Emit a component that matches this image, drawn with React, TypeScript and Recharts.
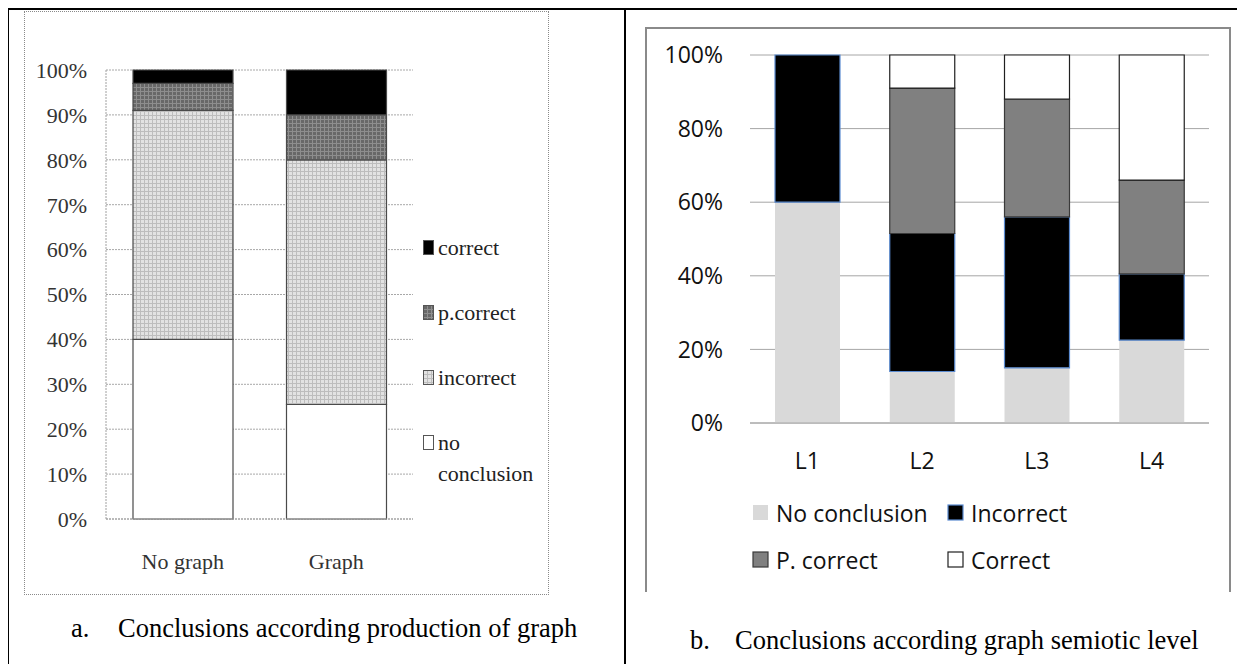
import React from "react";
import { BarChart, Bar, XAxis, YAxis, CartesianGrid, Legend } from "recharts";

// a. conclusions according production of graph
const graphGroups = ["No graph", "Graph"];
const aNoConclusion = [40, 25.5];
const aIncorrect = [51, 54.5];
const aPCorrect = [6, 10];
const aCorrect = [3, 10];
const aTicks = [0, 10, 20, 30, 40, 50, 60, 70, 80, 90, 100];

// b. conclusions according graph semiotic level
const levels = ["L1", "L2", "L3", "L4"];
const bNoConclusion = [60, 14, 15, 22.5];
const bIncorrect = [40, 37.5, 41, 18];
const bPCorrect = [0, 39.5, 32, 25.5];
const bCorrect = [0, 9, 12, 34];
const bTicks = [0, 20, 40, 60, 80, 100];

const dataA = graphGroups.map((g, i) => ({
  group: g,
  noConclusion: aNoConclusion[i],
  incorrect: aIncorrect[i],
  pCorrect: aPCorrect[i],
  correct: aCorrect[i],
}));

const dataB = levels.map((l, i) => ({
  level: l,
  noConclusion: bNoConclusion[i],
  incorrect: bIncorrect[i],
  pCorrect: bPCorrect[i],
  correct: bCorrect[i],
}));

const seriesA = [
  { key: "noConclusion", name: "no conclusion", fill: "#ffffff" },
  { key: "incorrect", name: "incorrect", fill: "url(#patIncorrect)" },
  { key: "pCorrect", name: "p.correct", fill: "url(#patPCorrect)" },
  { key: "correct", name: "correct", fill: "#000000" },
];

const seriesB = [
  { key: "noConclusion", name: "No conclusion", fill: "#d9d9d9", stroke: "none" },
  { key: "incorrect", name: "Incorrect", fill: "#000000", stroke: "#5b8bd0" },
  { key: "pCorrect", name: "P. correct", fill: "#808080", stroke: "#3a3a3a" },
  { key: "correct", name: "Correct", fill: "#ffffff", stroke: "#202020" },
];

const serif = "'Liberation Serif', 'Times New Roman', serif";
const sans = "'Open Sans', 'Noto Sans', sans-serif";

// legend a lists the stack top-down, like the original
function LegendA() {
  const items = [...seriesA].reverse();
  return (
    <div style={{ fontFamily: serif, fontSize: 22, color: "#222" }}>
      {items.map((s) => {
        const words = s.name === "no conclusion" ? ["no", "conclusion"] : [s.name];
        return (
          <div key={s.key} style={{ display: "flex", height: 65, alignItems: "flex-start" }}>
            <svg width={15} height={30} style={{ flex: "none" }}>
              <rect x={0.5} y={8.5} width={10} height={14} fill={s.fill} stroke="#555" />
            </svg>
            <div style={{ lineHeight: "31px" }}>
              {words.map((w) => (
                <div key={w}>{w}</div>
              ))}
            </div>
          </div>
        );
      })}
    </div>
  );
}

function LegendB() {
  return (
    <div
      style={{
        fontFamily: sans,
        fontSize: 23,
        color: "#111",
        display: "grid",
        gridTemplateColumns: "195px 200px",
        rowGap: 15,
      }}
    >
      {seriesB.map((s) => (
        <div key={s.key} style={{ display: "flex", alignItems: "center", height: 32 }}>
          <svg width={24} height={18} style={{ flex: "none" }}>
            <rect
              x={1}
              y={1}
              width={15}
              height={15}
              fill={s.fill}
              stroke={s.stroke}
              strokeWidth={1.2}
            />
          </svg>
          <span>{s.name}</span>
        </div>
      ))}
    </div>
  );
}

const captionStyle: React.CSSProperties = {
  position: "absolute",
  fontFamily: serif,
  fontSize: 26.5,
  lineHeight: "30px",
  color: "#000",
  whiteSpace: "nowrap",
};

export default function App() {
  return (
    <div
      style={{
        position: "relative",
        width: 1245,
        height: 664,
        margin: "-8px 0 0 -8px",
        background: "#fff",
        overflow: "hidden",
      }}
    >
      {/* table rules */}
      <div style={{ position: "absolute", left: 7, top: 8, width: 1238, height: 2, background: "#000" }} />
      <div style={{ position: "absolute", left: 7, top: 8, width: 2, height: 656, background: "#000" }} />
      <div style={{ position: "absolute", left: 624, top: 8, width: 2, height: 656, background: "#000" }} />

      {/* chart frames */}
      <div
        style={{
          position: "absolute",
          left: 24,
          top: 11,
          width: 525,
          height: 584,
          boxSizing: "border-box",
          border: "1px dotted #8a8a8a",
        }}
      />
      <div
        style={{
          position: "absolute",
          left: 645,
          top: 27,
          width: 586,
          height: 565,
          boxSizing: "border-box",
          borderLeft: "2px solid #8a8a8a",
          borderTop: "2px solid #8a8a8a",
          borderRight: "2px solid #8a8a8a",
        }}
      />

      <div style={{ position: "absolute", left: 24, top: 11 }}>
        <BarChart
          width={525}
          height={584}
          data={dataA}
          margin={{ top: 59, right: 136, bottom: 36, left: 0 }}
        >
          <defs>
            <pattern id="patIncorrect" width="4" height="4" patternUnits="userSpaceOnUse">
              <rect width="4" height="4" fill="#e2e2e2" />
              <path d="M0 0.5H4M0.5 0V4" stroke="#bdbdbd" strokeWidth="1" />
            </pattern>
            <pattern id="patPCorrect" width="4" height="4" patternUnits="userSpaceOnUse">
              <rect width="4" height="4" fill="#686868" />
              <path d="M0 0.5H4M0.5 0V4" stroke="#8e8e8e" strokeWidth="1" />
            </pattern>
          </defs>
          <CartesianGrid vertical={false} stroke="#a8a8a8" strokeDasharray="2 1" />
          <XAxis
            dataKey="group"
            height={40}
            tickLine={false}
            tickSize={0}
            tickMargin={34}
            axisLine={{ stroke: "#a0a0a0", strokeDasharray: "2 1" }}
            tick={{ fontSize: 22, fontFamily: serif, fill: "#333" }}
          />
          <YAxis
            width={82}
            domain={[0, 100]}
            ticks={aTicks}
            interval={0}
            tickFormatter={(v: number) => `${v}%`}
            tickLine={false}
            tickSize={0}
            tickMargin={19}
            axisLine={{ stroke: "#a0a0a0", strokeDasharray: "2 1" }}
            tick={{ fontSize: 22, fontFamily: serif, fill: "#333" }}
          />
          <Legend
            layout="vertical"
            verticalAlign="middle"
            align="center"
            content={LegendA}
            wrapperStyle={{ left: 399, top: 221, width: 130 }}
          />
          {seriesA.map((s) => (
            <Bar
              key={s.key}
              dataKey={s.key}
              name={s.name}
              stackId="a"
              fill={s.fill}
              stroke="#4a4a4a"
              strokeWidth={1.2}
              barSize={100}
              isAnimationActive={false}
            />
          ))}
        </BarChart>
      </div>

      <div style={{ position: "absolute", left: 645, top: 27 }}>
        <BarChart
          width={586}
          height={565}
          data={dataB}
          margin={{ top: 28, right: 22, bottom: 129, left: 0 }}
        >
          <CartesianGrid vertical={false} stroke="#a6a6a6" />
          <XAxis
            dataKey="level"
            height={40}
            tickLine={false}
            tickSize={0}
            tickMargin={30}
            axisLine={{ stroke: "#a6a6a6" }}
            tick={{ fontSize: 23, fontFamily: sans, fill: "#111" }}
          />
          <YAxis
            width={105}
            domain={[0, 100]}
            ticks={bTicks}
            interval={0}
            tickFormatter={(v: number) => `${v}%`}
            tickLine={false}
            tickSize={0}
            tickMargin={27}
            axisLine={false}
            tick={{ fontSize: 23, fontFamily: sans, fill: "#111" }}
          />
          <Legend
            layout="horizontal"
            verticalAlign="middle"
            align="center"
            content={LegendB}
            wrapperStyle={{ left: 107, top: 470, width: 420 }}
          />
          {seriesB.map((s) => (
            <Bar
              key={s.key}
              dataKey={s.key}
              name={s.name}
              stackId="b"
              fill={s.fill}
              stroke={s.stroke}
              strokeWidth={1.2}
              barSize={65}
              isAnimationActive={false}
            />
          ))}
        </BarChart>
      </div>

      {/* captions */}
      <div style={{ ...captionStyle, left: 71, top: 613 }}>a.</div>
      <div style={{ ...captionStyle, left: 118, top: 613 }}>Conclusions according production of graph</div>
      <div style={{ ...captionStyle, left: 690, top: 625 }}>b.</div>
      <div style={{ ...captionStyle, left: 735, top: 625 }}>Conclusions according graph semiotic level</div>
    </div>
  );
}
